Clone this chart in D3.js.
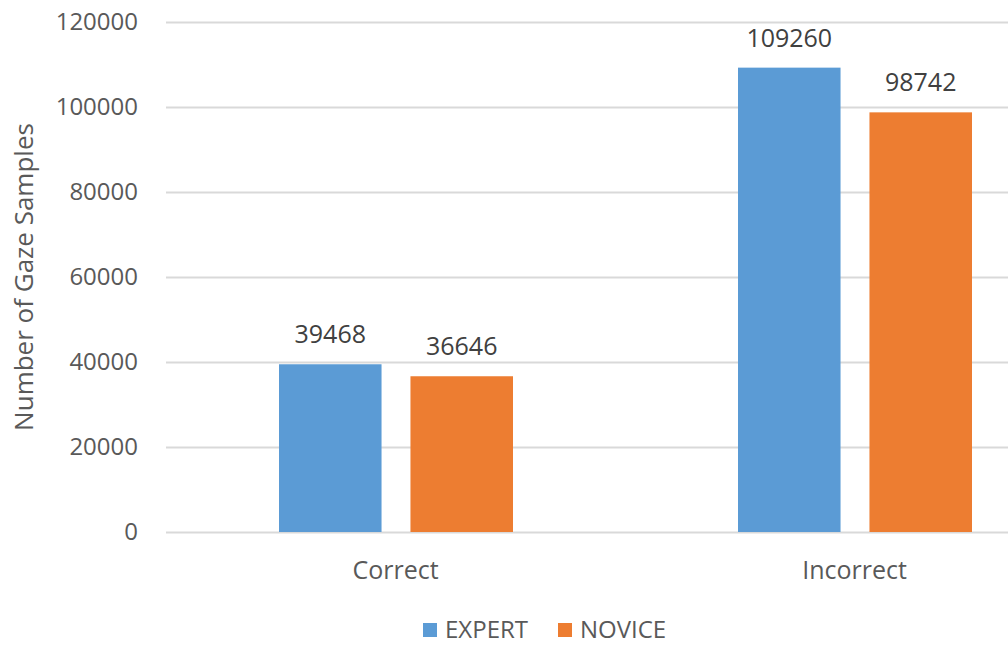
<!DOCTYPE html>
<html>
<head>
<meta charset="utf-8">
<script src="https://cdn.jsdelivr.net/npm/d3@7"></script>
<style>
  body { margin: 0; background: #fff; }
  svg { display: block; font-family: "Open Sans", sans-serif; }
</style>
</head>
<body>
<svg id="viz" width="1008" height="646"></svg>
<script>
var categories = ['Correct', 'Incorrect'],
	seriesNames = ['EXPERT', 'NOVICE'],
	expert = [39468, 109260],
	novice = [36646, 98742],
	yTicks = [0, 20000, 40000, 60000, 80000, 100000, 120000],
	colors = ['#5b9bd5', '#ed7d31'];

var viz = d3.select('#viz');

// plot runs past the right edge, like the cropped original
var x = d3.scaleBand().domain(categories).range([166, 1084]);
var sub = d3.scaleBand().domain(seriesNames).range([113, 347]).paddingInner(0.22);
var y = d3.scaleLinear().domain([0, 120000]).range([532, 22]);

// gridlines + tick labels
var yAxis = d3.axisLeft(y).tickValues(yTicks).tickFormat(d3.format('d'))
		.tickSize(-(1084 - 166)).tickPadding(28);
var ga = viz.append('g').attr('transform', 'translate(166,0)').call(yAxis);
ga.select('.domain').remove();
ga.selectAll('line').attr('stroke', '#d9d9d9').attr('stroke-width', 2);
ga.selectAll('text').attr('fill', '#595959').style('font-size', '24px').style('font-family', '"Open Sans", sans-serif');

var rows = categories.map(function(c, i) { return {cat: c, vals: [expert[i], novice[i]]}; });

var groups = viz.selectAll('g.grp').data(rows).enter().append('g')
		.attr('class', 'grp')
		.attr('transform', function(d) { return 'translate(' + x(d.cat) + ',0)'; });

groups.selectAll('rect').data(function(d) { return d.vals; }).enter().append('rect')
		.attr('x', function(d, i) { return sub(seriesNames[i]); })
		.attr('width', sub.bandwidth())
		.attr('y', function(d) { return y(d); })
		.attr('height', function(d) { return y(0) - y(d); })
		.attr('fill', function(d, i) { return colors[i]; });

groups.selectAll('text.val').data(function(d) { return d.vals; }).enter().append('text')
		.attr('class', 'val')
		.attr('x', function(d, i) { return sub(seriesNames[i]) + sub.bandwidth() / 2; })
		.attr('y', function(d) { return y(d) - 21; })
		.attr('text-anchor', 'middle')
		.attr('fill', '#404040')
		.style('font-size', '25px')
		.text(function(d) { return d; });

// category labels
viz.selectAll('text.cat').data(categories).enter().append('text')
		.attr('class', 'cat')
		.attr('x', function(d) { return x(d) + 229.5; })
		.attr('y', 579)
		.attr('text-anchor', 'middle')
		.attr('fill', '#595959')
		.style('font-size', '25px')
		.text(function(d) { return d; });

// y title
viz.append('text')
		.attr('transform', 'translate(33,277) rotate(-90)')
		.attr('text-anchor', 'middle')
		.attr('fill', '#595959')
		.style('font-size', '26px')
		.text('Number of Gaze Samples');

// legend
var legX = [423, 558];
var leg = viz.selectAll('g.leg').data(seriesNames).enter().append('g')
		.attr('class', 'leg')
		.attr('transform', function(d, i) { return 'translate(' + legX[i] + ',623)'; });
leg.append('rect').attr('width', 14).attr('height', 14)
		.attr('fill', function(d, i) { return colors[i]; });
leg.append('text').attr('x', 22).attr('y', 15)
		.attr('fill', '#595959')
		.style('font-size', '24px')
		.text(function(d) { return d; });
</script>
</body>
</html>
